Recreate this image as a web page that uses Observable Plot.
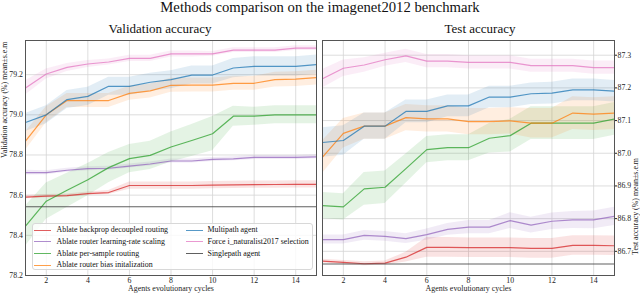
<!DOCTYPE html>
<html><head><meta charset="utf-8">
<script src="https://cdn.jsdelivr.net/npm/d3@7"></script>
<script src="https://cdn.jsdelivr.net/npm/@observablehq/plot@0.6"></script>
<style>
body{margin:0;background:#fff}
#chart{position:relative;width:640px;height:295px;overflow:hidden;font-family:"Liberation Serif","DejaVu Serif",serif;color:#111}
#chart svg{position:absolute;top:0}
.txt{position:absolute;white-space:nowrap;line-height:1;text-align:center}
#legend{position:absolute;left:31.5px;top:223px;width:281px;height:47px;border:1px solid #d8d8d8;border-radius:3px;background:rgba(255,255,255,0.82);box-sizing:border-box}
.li{position:absolute;font-size:7.9px;line-height:1;white-space:nowrap}
.ls{position:absolute;height:0;border-top:1.5px solid}
</style></head>
<body><div id="chart"></div>
<script>
const title = "Methods comparison on the imagenet2012 benchmark";
const panelTitles = ["Validation accuracy", "Test accuracy"];
const yLabels = ["Validation accuracy (%) mean±s.e.m", "Test accuracy (%) mean±s.e.m"];
const xLabel = "Agents evolutionary cycles";
const seriesNames = ["Ablate backprop decoupled routing", "Ablate router learning-rate scaling", "Ablate per-sample routing", "Ablate router bias initalization", "Multipath agent", "Force i_naturalist2017 selection"];
const singleName = "Singlepath agent";
const seriesColors = ["#d62728", "#9467bd", "#2ca02c", "#ff7f0e", "#1f77b4", "#e377c2"];
const cycles = [1,2,3,4,5,6,7,8,9,10,11,12,13,14,15];
const xTicks = [2,4,6,8,10,12,14];
const valTicks = [78.2,78.4,78.6,78.8,79.0,79.2];
const testTicks = [86.7,86.8,86.9,87.0,87.1,87.2,87.3];

// Validation means
const valRed    = [78.590,78.595,78.598,78.608,78.613,78.648,78.648,78.648,78.648,78.650,78.651,78.652,78.653,78.654,78.654];
const valPurple = [78.712,78.712,78.724,78.732,78.734,78.745,78.755,78.770,78.770,78.778,78.781,78.788,78.788,78.788,78.791];
const valGreen  = [78.446,78.570,78.624,78.677,78.737,78.782,78.798,78.840,78.872,78.906,78.993,78.993,79.000,79.000,79.000];
const valOrange = [78.869,79.000,79.071,79.071,79.071,79.107,79.119,79.147,79.148,79.148,79.157,79.157,79.175,79.178,79.185];
const valBlue   = [78.962,79.000,79.076,79.092,79.142,79.142,79.162,79.175,79.198,79.198,79.233,79.241,79.241,79.241,79.250];
const valPink   = [79.134,79.203,79.236,79.253,79.263,79.281,79.281,79.303,79.303,79.303,79.322,79.322,79.322,79.332,79.332];
const valSingle = 78.542;
// Validation s.e.m
const valRedSem    = [0.008,0.008,0.008,0.008,0.010,0.018,0.018,0.018,0.018,0.018,0.018,0.018,0.018,0.018,0.018];
const valPurpleSem = [0.012,0.010,0.010,0.010,0.010,0.010,0.010,0.010,0.010,0.010,0.010,0.010,0.010,0.010,0.010];
const valGreenSem  = [0.100,0.090,0.085,0.080,0.075,0.070,0.070,0.075,0.080,0.085,0.050,0.045,0.045,0.045,0.045];
const valOrangeSem = [0.045,0.040,0.035,0.035,0.035,0.035,0.035,0.035,0.035,0.035,0.035,0.035,0.037,0.037,0.037];
const valBlueSem   = [0.045,0.045,0.045,0.045,0.045,0.045,0.045,0.045,0.045,0.045,0.048,0.048,0.048,0.048,0.048];
const valPinkSem   = [0.035,0.025,0.020,0.018,0.015,0.015,0.015,0.015,0.015,0.012,0.012,0.012,0.012,0.012,0.012];

// Test means
const testRed    = [86.670,86.666,86.662,86.664,86.682,86.712,86.712,86.711,86.711,86.711,86.709,86.709,86.718,86.718,86.717];
const testPurple = [86.736,86.736,86.749,86.746,86.739,86.751,86.767,86.774,86.774,86.794,86.780,86.792,86.796,86.796,86.807];
const testGreen  = [86.840,86.836,86.891,86.896,86.953,87.011,87.017,87.017,87.046,87.054,87.092,87.092,87.092,87.092,87.105];
const testOrange = [86.988,87.061,87.083,87.083,87.109,87.105,87.105,87.097,87.097,87.099,87.092,87.092,87.123,87.120,87.123];
const testBlue   = [87.033,87.039,87.083,87.083,87.128,87.128,87.145,87.145,87.172,87.172,87.182,87.184,87.194,87.194,87.190];
const testPink   = [87.228,87.260,87.270,87.286,87.298,87.282,87.282,87.278,87.278,87.278,87.268,87.268,87.268,87.262,87.262];
const testSingle = 86.661;
// Test s.e.m
const testRedSem    = [0.006,0.006,0.006,0.006,0.015,0.030,0.030,0.030,0.030,0.030,0.030,0.030,0.030,0.030,0.030];
const testPurpleSem = [0.014,0.014,0.015,0.015,0.015,0.017,0.018,0.020,0.020,0.024,0.024,0.025,0.026,0.027,0.028];
const testGreenSem  = [0.040,0.040,0.050,0.050,0.045,0.040,0.040,0.040,0.045,0.050,0.050,0.050,0.050,0.050,0.050];
const testOrangeSem = [0.050,0.045,0.040,0.040,0.040,0.040,0.040,0.040,0.040,0.040,0.045,0.045,0.050,0.050,0.050];
const testBlueSem   = [0.045,0.045,0.040,0.040,0.035,0.035,0.033,0.033,0.033,0.033,0.033,0.033,0.033,0.033,0.033];
const testPinkSem   = [0.028,0.025,0.022,0.020,0.020,0.020,0.020,0.020,0.020,0.020,0.020,0.020,0.020,0.020,0.020];

function rowsOf(means, sems) {
  const rows = [];
  means.forEach((m, i) => m.forEach((v, j) => rows.push({series: seriesNames[i], cycle: cycles[j], mean: v, sem: sems[i][j]})));
  return rows;
}
const valRows = rowsOf([valRed,valPurple,valGreen,valOrange,valBlue,valPink],[valRedSem,valPurpleSem,valGreenSem,valOrangeSem,valBlueSem,valPinkSem]);
const testRows = rowsOf([testRed,testPurple,testGreen,testOrange,testBlue,testPink],[testRedSem,testPurpleSem,testGreenSem,testOrangeSem,testBlueSem,testPinkSem]);

const font = '"Liberation Serif","DejaVu Serif",serif';
function panel(rows, single, yDomain, yTicks, side, yLabel) {
  const left = side === "left";
  return Plot.plot({
    width: 320, height: 295,
    marginTop: 40, marginBottom: 20,
    marginLeft: left ? 25 : 2, marginRight: left ? 4 : 26,
    style: {fontFamily: font, fontSize: "7.8px", background: "transparent", color: "#222", overflow: "visible"},
    x: {domain: [1, 15]},
    y: {domain: yDomain},
    color: {domain: seriesNames, range: seriesColors},
    marks: [
      Plot.gridX(xTicks, {stroke: "#d4d4d4", strokeOpacity: 0.8}),
      Plot.gridY(yTicks, {stroke: "#d4d4d4", strokeOpacity: 0.8}),
      Plot.areaY(rows, {x: "cycle", y1: d => d.mean - d.sem, y2: d => d.mean + d.sem, z: "series", fill: "series", fillOpacity: 0.13, clip: true}),
      Plot.line(rows, {x: "cycle", y: "mean", z: "series", stroke: "series", strokeWidth: 1.2, strokeOpacity: 0.75, clip: true}),
      Plot.ruleY([single], {stroke: "#444", strokeWidth: 1.1, strokeOpacity: 0.85}),
      Plot.frame({stroke: "#555", strokeWidth: 1}),
      Plot.axisX({ticks: xTicks, tickSize: 0, tickPadding: 1.5, label: null}),
      Plot.axisY({anchor: side, ticks: yTicks, tickFormat: d => d.toFixed(1), tickSize: left ? 0 : 2, tickPadding: left ? 2.5 : 1, label: null}),
      Plot.text([yLabel], {text: d => d, frameAnchor: side, rotate: -90, dx: left ? -21.5 : 21, fontSize: 7.9}),
      Plot.text([xLabel], {text: d => d, frameAnchor: "bottom", dy: 15.3, fontSize: 7.9})
    ]
  });
}

const chart = document.getElementById("chart");
const p1 = panel(valRows, valSingle, [78.2, 79.37], valTicks, "left", yLabels[0]);
p1.style.left = "0px";
const p2 = panel(testRows, testSingle, [86.626, 87.345], testTicks, "right", yLabels[1]);
p2.style.left = "320px";
chart.appendChild(p1); chart.appendChild(p2);

function addText(t, x, top, size) {
  const d = document.createElement("div");
  d.className = "txt"; d.textContent = t;
  d.style.fontSize = size + "px"; d.style.top = top + "px";
  d.style.left = (x - 200) + "px"; d.style.width = "400px";
  chart.appendChild(d);
}
addText(title, 320, 0, 14.7);
addText(panelTitles[0], 160, 22.2, 13);
addText(panelTitles[1], 480, 22.2, 13);

// Legend
const legend = document.createElement("div");
legend.id = "legend";
chart.appendChild(legend);
const entries = seriesNames.map((n, i) => ({name: n, color: seriesColors[i], op: 0.75}));
entries.push({name: singleName, color: "#444", op: 0.85});
entries.forEach((e, i) => {
  const col = i < 4 ? 0 : 1, row = i < 4 ? i : i - 4;
  const cy = 6.3 + row * 11.7;
  const s = document.createElement("div");
  s.className = "ls";
  s.style.left = (col ? 153 : 1.5) + "px"; s.style.width = "17px";
  s.style.top = (cy - 0.75) + "px"; s.style.borderColor = e.color; s.style.opacity = e.op;
  legend.appendChild(s);
  const t = document.createElement("div");
  t.className = "li"; t.textContent = e.name;
  t.style.left = (col ? 175 : 24) + "px"; t.style.top = (cy - 4.2) + "px";
  legend.appendChild(t);
});
</script>
</body></html>
